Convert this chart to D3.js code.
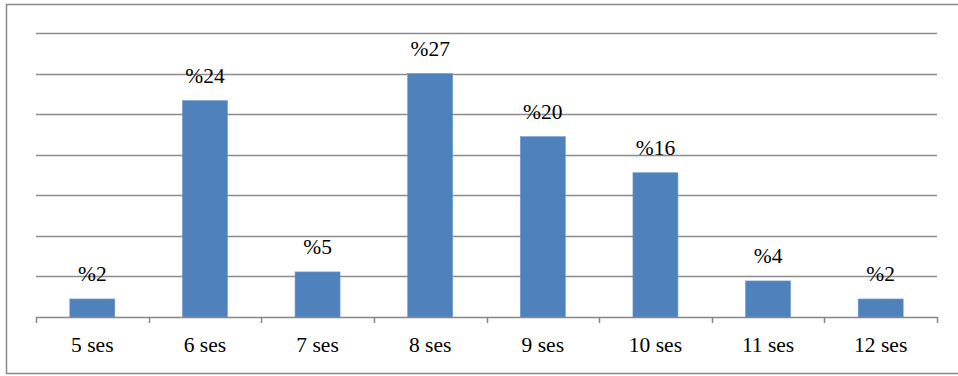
<!DOCTYPE html>
<html>
<head>
<meta charset="utf-8">
<script src="https://cdn.jsdelivr.net/npm/d3@7"></script>
<style>
  html, body { margin: 0; padding: 0; background: #fff; }
  svg { display: block; }
  .lbl { font-family: "Liberation Serif"; font-size: 21.5px; fill: #000; }
</style>
</head>
<body>
<svg id="chart" width="958" height="376"></svg>
<script>
// Share of respondents by number of sessions
const categories = ["5 ses", "6 ses", "7 ses", "8 ses", "9 ses", "10 ses", "11 ses", "12 ses"];
const values = [2, 24, 5, 27, 20, 16, 4, 2];
const valueLabels = ["%2", "%24", "%5", "%27", "%20", "%16", "%4", "%2"];
const gridTicks = [4.5, 9, 13.5, 18, 22.5, 27, 31.5];

const svg = d3.select("#chart");
const plot = { left: 36, right: 937, top: 33, bottom: 317 };

// Outer frame (open on the right side)
svg.append("path")
  .attr("d", `M958,4.5 H6.5 V373.5 H958`)
  .attr("fill", "none")
  .attr("stroke", "#8a8a8a")
  .attr("stroke-width", 1.5);

const x = d3.scaleBand()
  .domain(categories)
  .range([plot.left, plot.right])
  .paddingInner(0)
  .paddingOuter(0);

const y = d3.scaleLinear()
  .domain([0, 31.5])
  .range([plot.bottom, plot.top]);

// Horizontal gridlines
svg.append("g")
  .selectAll("line")
  .data(gridTicks)
  .join("line")
  .attr("x1", plot.left)
  .attr("x2", plot.right)
  .attr("y1", d => Math.round(y(d)) + 0.5)
  .attr("y2", d => Math.round(y(d)) + 0.5)
  .attr("stroke", "#8c8c8c")
  .attr("stroke-width", 1.5);

// Bars
const barW = 45;
svg.append("g")
  .selectAll("rect")
  .data(values)
  .join("rect")
  .attr("x", (d, i) => x(categories[i]) + x.bandwidth() / 2 - barW / 2)
  .attr("width", barW)
  .attr("y", d => y(d))
  .attr("height", d => y(0) - y(d))
  .attr("fill", "#4f81bd")
  .attr("stroke", "#6f98cc")
  .attr("stroke-width", 0.6);

// Category axis: baseline with ticks at band boundaries
const boundaries = categories.map(c => x(c)).concat([plot.right]);
svg.append("line")
  .attr("x1", plot.left).attr("x2", plot.right)
  .attr("y1", plot.bottom + 0.5).attr("y2", plot.bottom + 0.5)
  .attr("stroke", "#868686").attr("stroke-width", 1.5);
svg.append("g")
  .selectAll("line")
  .data(boundaries)
  .join("line")
  .attr("x1", d => Math.round(d) + 0.5)
  .attr("x2", d => Math.round(d) + 0.5)
  .attr("y1", plot.bottom)
  .attr("y2", plot.bottom + 6)
  .attr("stroke", "#868686")
  .attr("stroke-width", 1.5);

// Category labels
svg.append("g")
  .selectAll("text")
  .data(categories)
  .join("text")
  .attr("class", "lbl")
  .attr("x", d => x(d) + x.bandwidth() / 2)
  .attr("y", 352)
  .attr("text-anchor", "middle")
  .text(d => d);

// Value labels above bars
svg.append("g")
  .selectAll("text")
  .data(values)
  .join("text")
  .attr("class", "lbl")
  .attr("x", (d, i) => x(categories[i]) + x.bandwidth() / 2)
  .attr("y", d => y(d) - 17.5)
  .attr("text-anchor", "middle")
  .text((d, i) => valueLabels[i]);
</script>
</body>
</html>
